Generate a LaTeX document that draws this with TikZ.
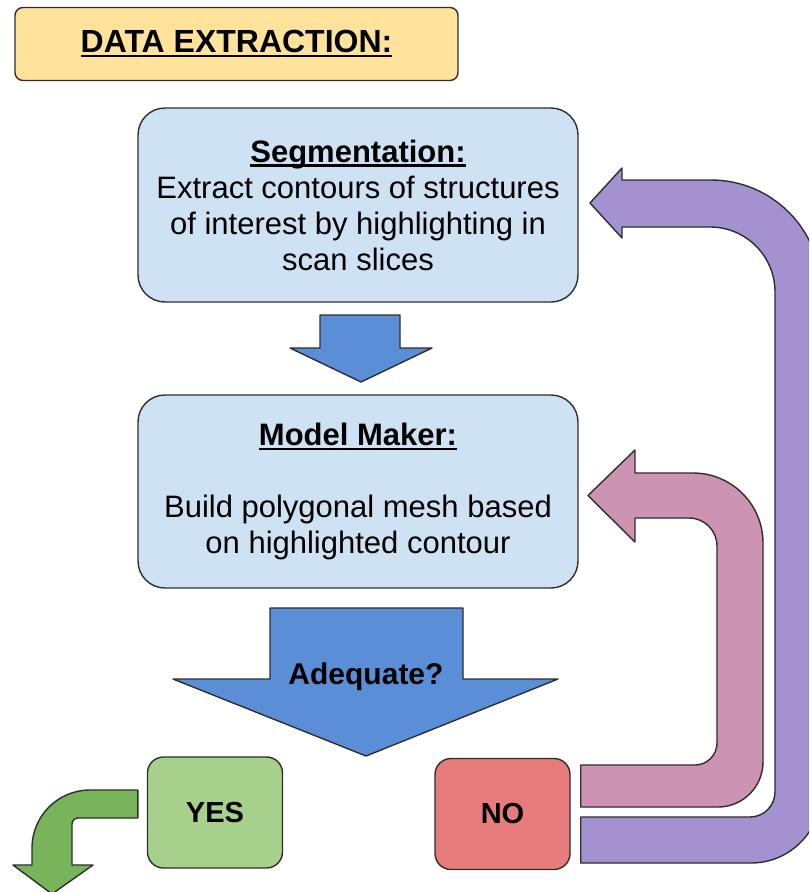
\documentclass[tikz,border=0pt]{standalone}
\usepackage{fontspec}
\setmainfont{Liberation Sans}
\definecolor{titlefill}{HTML}{FFE39B}
\definecolor{boxblue}{HTML}{CFE2F3}
\definecolor{arrowblue}{HTML}{5A8FD8}
\definecolor{yesgreen}{HTML}{A8D08D}
\definecolor{arrowgreen}{HTML}{78B55A}
\definecolor{nored}{HTML}{E67C7C}
\definecolor{loopink}{HTML}{CC93B2}
\definecolor{looppurple}{HTML}{A392CF}
\definecolor{edge}{HTML}{2E2E2E}
% heavy underline sitting just under the baseline
\newcommand\heavyul[1]{\setbox0\hbox{#1}\rlap{\rule[-4.5pt]{\wd0}{2.3pt}}\box0}
\tikzset{
  outline/.style={draw=edge, line width=1.4pt, line join=round},
  stepbox/.style={outline, fill=boxblue, rounded corners=27pt, minimum width=440pt,
    align=center, font=\fontsize{31}{36}\selectfont},
  answer/.style={outline, rounded corners=16pt, minimum width=135pt, minimum height=111pt,
    font=\fontsize{29}{34}\selectfont\bfseries},
  flowarrow/.style={outline, fill=arrowblue},
}
\begin{document}
\begin{tikzpicture}[x=1pt, y=-1pt]
\useasboundingbox (0,0) rectangle (809,892);
\clip (0,0) rectangle (809,892);
\fill[white] (0,0) rectangle (809,892);

% heading
\node[outline, fill=titlefill, rounded corners=8pt, minimum width=443pt, minimum height=73pt,
      font=\fontsize{32}{36}\selectfont\bfseries] (title) at (236.5,44) {\heavyul{DATA EXTRACTION:}};

% the two processing steps
\node[stepbox, minimum height=194pt] (seg) at (358,205)
  {\textbf{\heavyul{Segmentation:}}\\Extract contours of structures\\of interest by highlighting in\\scan slices};
\node[stepbox, minimum height=193pt] (model) at (358,491.5)
  {\textbf{\heavyul{Model Maker:}}\\[36pt]Build polygonal mesh based\\on highlighted contour};

% outcomes
\node[answer, fill=yesgreen] (yes) at (215,812.5) {YES};
\node[answer, fill=nored] (no) at (502.5,814) {NO};

% block arrow between the steps
\draw[flowarrow] (320,315) -- (400,315) -- (400,348) -- (432,348) -- (361,382)
  -- (290,348) -- (320,348) -- cycle;

% decision arrow
\draw[flowarrow] (270,608) -- (463,608) -- (463,679) -- (558,679) -- (366,756)
  -- (173,679) -- (270,679) -- cycle;
\node[font=\fontsize{30}{34}\selectfont\bfseries] (adequate) at (366,677) {Adequate?};

% YES leads out of the diagram
\coordinate (yesout) at ([xshift=-9pt]yes.west);
\draw[outline, fill=arrowgreen] (yesout |- 0,790) [rounded corners=58pt] -- (32,790)
  [sharp corners] -- (32,865) -- (13,865) -- (52,894) -- (93,865) -- (72,865)
  [rounded corners=6pt] -- (72,818) [sharp corners] -- (yesout |- 0,818) -- cycle;

% NO loops back to the model maker and to segmentation
\coordinate (noout) at ([xshift=10pt]no.east);
\draw[outline, fill=loopink] (noout |- 0,765) [rounded corners=22pt] -- (717,765)
  [rounded corners=28pt] -- (717,518) [sharp corners] -- (635,518) -- (635,542)
  -- (588,495.5) -- (635,450) -- (635,473) [rounded corners=70pt] -- (763,473)
  [rounded corners=45pt] -- (763,807) [sharp corners] -- (noout |- 0,807) -- cycle;

\draw[outline, fill=looppurple] (noout |- 0,817) [rounded corners=25pt] -- (775,817)
  [rounded corners=65pt] -- (775,227) [sharp corners] -- (622,227) -- (622,238)
  -- (590,203) -- (622,168) -- (622,180) [rounded corners=110pt] -- (821,180)
  [rounded corners=70pt] -- (821,863) [sharp corners] -- (noout |- 0,863) -- cycle;
\end{tikzpicture}
\end{document}
